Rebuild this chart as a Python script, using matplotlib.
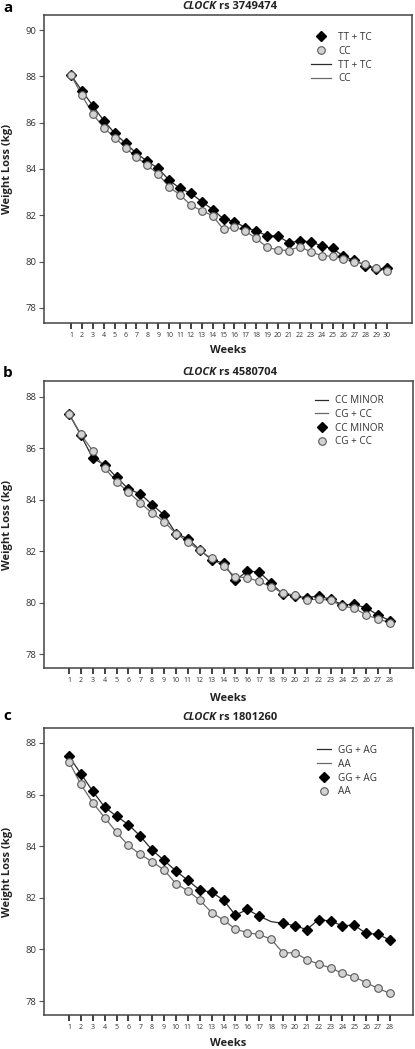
import numpy as np
import matplotlib.pyplot as plt

plt.rcParams['font.family'] = ['Open Sans', 'DejaVu Sans']

# ---- data ----
weeks_a = list(range(1, 31))
tt_tc = [88.05, 87.38, 86.73, 86.09, 85.55, 85.11, 84.68, 84.33, 84.03, 83.52,
         83.16, 82.95, 82.59, 82.25, 81.84, 81.73, 81.47, 81.33, 81.11, 81.11,
         80.81, 80.90, 80.85, 80.68, 80.57, 80.23, 80.06, 79.83, 79.66, 79.73]
cc = [88.05, 87.18, 86.37, 85.79, 85.36, 84.92, 84.51, 84.16, 83.78, 83.22,
      82.89, 82.43, 82.20, 81.98, 81.39, 81.50, 81.32, 81.00, 80.61, 80.51,
      80.48, 80.65, 80.42, 80.26, 80.23, 80.12, 80.00, 79.89, 79.71, 79.60]

weeks_b = list(range(1, 29))
cc_minor = [87.35, 86.51, 85.62, 85.36, 84.88, 84.42, 84.23, 83.81, 83.41, 82.69,
            82.49, 82.05, 81.67, 81.54, 80.87, 81.23, 81.19, 80.76, 80.33, 80.25,
            80.20, 80.26, 80.13, 79.92, 79.93, 79.80, 79.52, 79.30]
cg_cc = [87.35, 86.55, 85.90, 85.23, 84.71, 84.30, 83.88, 83.48, 83.15, 82.69,
         82.37, 82.03, 81.72, 81.41, 81.00, 80.97, 80.83, 80.61, 80.38, 80.29,
         80.12, 80.13, 80.10, 79.86, 79.79, 79.52, 79.37, 79.22]

weeks_c = list(range(1, 29))
gg_ag = [87.48, 86.81, 86.13, 85.52, 85.16, 84.84, 84.39, 83.85, 83.45, 83.04,
         82.68, 82.30, 82.22, 81.91, 81.33, 81.55, 81.29, 81.08, 81.01, 80.92,
         80.77, 81.16, 81.10, 80.92, 80.94, 80.62, 80.59, 80.36]
gg_ag_marked = [w for w in weeks_c if w != 18]   # no marker drawn at week 18
aa = [87.28, 86.40, 85.69, 85.11, 84.54, 84.03, 83.68, 83.40, 83.08, 82.55,
      82.27, 81.91, 81.43, 81.14, 80.79, 80.65, 80.58, 80.40, 79.87, 79.87,
      79.61, 79.43, 79.29, 79.07, 78.94, 78.71, 78.49, 78.30]

titles = ['rs 3749474', 'rs 4580704', 'rs 1801260']
panel_labels = ['a', 'b', 'c']

dark = '#2b2b2b'
gray_line = '#6a6a6a'
circ_face = '#d2d2d2'
circ_edge = '#5a5a5a'

fig = plt.figure(figsize=(4.15, 10.49), dpi=100)
axa = fig.add_axes([0.106, 0.6921, 0.887, 0.2936])
axb = fig.add_axes([0.106, 0.3632, 0.889, 0.2736])
axc = fig.add_axes([0.106, 0.0324, 0.889, 0.2736])


def style(ax, weeks, xlim, ylim, yticks, xlab_y):
    ax.set_xlim(*xlim)
    ax.set_ylim(*ylim)
    ax.set_xticks(weeks)
    ax.set_xticklabels([str(w) for w in weeks], fontsize=5, color='#333333')
    ax.set_yticks(yticks)
    ax.set_yticklabels([str(v) for v in yticks], fontsize=6.8, color='#333333')
    ax.tick_params(axis='x', direction='out', length=4, width=1.3, pad=2.5, color='#333333')
    ax.tick_params(axis='y', direction='out', length=3.5, width=0.8, pad=2, color='#555555')
    for s in ax.spines.values():
        s.set_color('#444444')
        s.set_linewidth(1.1)
    ax.set_xlabel('Weeks', fontsize=8, fontweight='bold', color='#222222')
    ax.xaxis.set_label_coords(0.5, xlab_y)
    ax.set_ylabel('Weight Loss (kg)', fontsize=8, fontweight='bold', color='#222222',
                  va='center')
    ax.yaxis.set_label_coords(-0.099, 0.5)


def title(ax, text, label, xfrac, yfrac, label_y):
    t = ax.text(xfrac, yfrac, 'CLOCK', transform=ax.transAxes, ha='right', va='center',
                fontsize=8, fontweight='bold', fontstyle='italic', color='#222222')
    ax.annotate(text, xy=(1, 0.5), xycoords=t, xytext=(2.5, 0), textcoords='offset points',
                ha='left', va='center', fontsize=8, fontweight='bold', color='#222222')
    fig.text(0.007, 1 - label_y / 1049, label, fontsize=11, fontweight='bold',
             ha='left', va='center')


def lines(ax, x, y1, y2):
    l1, = ax.plot(x, y1, color=dark, lw=0.9, zorder=2)
    l2, = ax.plot(x, y2, color=gray_line, lw=0.9, zorder=2)
    return l1, l2


def markers(ax, x1, y1, x2, y2):
    m1, = ax.plot(x1, y1, ls='none', marker='D', ms=5, mfc='black', mec='black', zorder=3)
    m2, = ax.plot(x2, y2, ls='none', marker='o', ms=5.5, mfc=circ_face, mec=circ_edge,
                  mew=0.8, zorder=4)
    return m1, m2


leg_kw = dict(loc='upper left', frameon=False, fontsize=7.2, borderpad=0, borderaxespad=0,
              labelspacing=0.28, handletextpad=0.7, labelcolor='#333333')

# panel a
la1, la2 = lines(axa, weeks_a, tt_tc, cc)
ma1, ma2 = markers(axa, weeks_a, tt_tc, weeks_a, cc)
style(axa, weeks_a, (-1.48, 32.3), (77.35, 90.65), [78, 80, 82, 84, 86, 88, 90], -0.071)
title(axa, titles[0], panel_labels[0], 0.467, 1.026, 7.5)
axa.legend([ma1, ma2, la1, la2], ['TT + TC', 'CC', 'TT + TC', 'CC'],
           bbox_to_anchor=(0.7255, 0.945), handlelength=2.0, **leg_kw)

# panel b
lb1, lb2 = lines(axb, weeks_b, cc_minor, cg_cc)
mb1, mb2 = markers(axb, weeks_b, cc_minor, weeks_b, cg_cc)
style(axb, weeks_b, (-1.1, 29.93), (77.46, 88.62), [78, 80, 82, 84, 86, 88], -0.087)
title(axb, titles[1], panel_labels[1], 0.466, 1.031, 373)
axb.legend([lb1, lb2, mb1, mb2], ['CC MINOR', 'CG + CC', 'CC MINOR', 'CG + CC'],
           bbox_to_anchor=(0.734, 0.951), handlelength=1.35, **leg_kw)

# panel c
lc1, lc2 = lines(axc, weeks_c, gg_ag, aa)
gg_m = [gg_ag[weeks_c.index(w)] for w in gg_ag_marked]
mc1, mc2 = markers(axc, gg_ag_marked, gg_m, weeks_c, aa)
style(axc, weeks_c, (-1.1, 29.93), (77.46, 88.58), [78, 80, 82, 84, 86, 88], -0.080)
title(axc, titles[2], panel_labels[2], 0.466, 1.038, 716)
axc.legend([lc1, lc2, mc1, mc2], ['GG + AG', 'AA', 'GG + AG', 'AA'],
           bbox_to_anchor=(0.74, 0.941), handlelength=1.35, **leg_kw)

fig.savefig('out.png', dpi=100)
